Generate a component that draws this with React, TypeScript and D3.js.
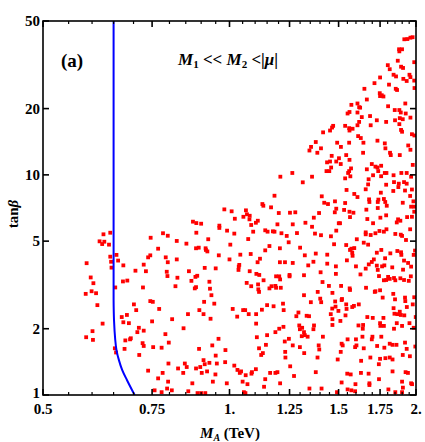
import React from "react";
import * as d3 from "d3";

// tick labels as printed on the figure
const xMajor = [0.5, 0.75, 1, 1.25, 1.5, 1.75, 2];
const xMajorLabels = ["0.5", "0.75", "1.", "1.25", "1.5", "1.75", "2."];
const yMajor = [1, 2, 5, 10, 20, 50];

// blue boundary curve (M_A in TeV vs tan beta)
const boundaryTanb = [1.0, 1.054, 1.17, 1.3, 1.44, 1.6, 1.78, 2.19, 2.7, 5, 50];
const boundaryMA = [0.703, 0.696, 0.683, 0.671, 0.663, 0.657, 0.654, 0.651, 0.65, 0.65, 0.65];

// scan points [M_A (TeV), tan beta]
const scanPoints: [number, number][] = [
  [0.626, 5.37], [0.642, 5.46], [0.617, 4.99], [0.628, 4.97], [0.623, 4.85], [0.639, 4.82],
  [0.746, 5.18], [0.781, 5.43], [0.795, 5.29], [0.767, 4.62], [0.642, 4.25], [0.657, 4.33],
  [0.644, 4.03], [0.661, 4.08], [0.674, 3.88], [0.645, 3.79], [0.588, 3.97], [0.739, 4.22],
  [0.745, 4.31], [0.727, 3.91], [0.789, 4.22], [0.795, 4.01], [0.705, 3.67], [0.733, 3.65],
  [0.792, 3.63], [0.794, 3.47], [0.597, 3.42], [0.673, 3.28], [0.684, 3.31], [0.603, 3.22],
  [0.654, 3.08], [0.725, 3.08], [0.599, 2.96], [0.586, 2.88], [0.609, 2.9], [0.612, 2.56],
  [0.745, 2.67], [0.752, 2.65], [0.701, 2.58], [0.707, 2.43], [0.77, 2.46], [0.683, 2.31],
  [0.67, 2.26], [0.75, 2.16], [0.674, 2.14], [0.688, 2.12], [0.624, 2.11], [0.714, 2.02],
  [0.727, 1.96], [0.71, 1.93], [0.601, 1.95], [0.587, 1.83], [0.602, 1.78], [0.788, 1.89],
  [0.693, 1.81], [0.691, 1.79], [0.679, 1.77], [0.724, 1.72], [0.727, 1.67], [0.798, 1.73],
  [0.753, 1.65], [0.777, 1.64], [0.653, 1.63], [0.677, 1.62], [0.656, 1.56], [0.715, 1.52],
  [0.797, 1.39], [0.739, 1.29], [0.78, 1.26], [0.767, 1.19], [0.796, 1.15], [0.793, 1.07],
  [0.757, 1.05], [0.777, 1.03],
  [0.981, 6.97], [1.008, 6.83], [1.063, 6.9], [1.067, 6.62], [1.078, 6.52], [1.053, 6.45],
  [1.02, 6.32], [1.077, 6.28], [0.873, 6.13], [0.884, 6.04], [0.9, 6.0], [1.084, 5.92],
  [0.963, 5.88], [0.963, 5.74], [0.991, 5.58], [1.092, 5.52], [0.884, 5.46], [1.018, 5.41],
  [0.924, 5.1], [1.072, 5.11], [0.822, 5.01], [0.852, 4.87], [1.003, 4.82], [0.883, 4.64],
  [0.892, 4.67], [0.915, 4.64], [0.916, 4.56], [0.921, 4.49], [0.961, 4.31], [1.041, 4.34],
  [1.082, 4.37], [0.822, 4.13], [1.0, 4.13], [1.037, 3.9], [1.035, 3.83], [0.912, 3.78],
  [0.95, 3.76], [1.034, 3.7], [0.86, 3.65], [1.078, 3.65], [0.887, 3.48], [0.881, 3.44],
  [0.824, 3.41], [0.868, 3.3], [0.928, 3.27], [1.066, 3.23], [0.818, 3.12], [0.883, 3.09],
  [0.879, 3.05], [1.084, 3.12], [0.93, 3.04], [0.935, 2.84], [0.91, 2.65], [0.945, 2.6],
  [0.894, 2.43], [1.012, 2.46], [1.052, 2.43], [1.06, 2.43], [0.857, 2.33], [0.908, 2.33],
  [1.074, 2.33], [1.029, 2.27], [0.932, 2.22], [0.808, 2.21], [0.843, 2.01], [0.96, 1.8],
  [0.938, 1.68], [0.893, 1.62], [0.985, 1.6], [0.95, 1.51], [0.908, 1.44], [0.984, 1.41],
  [0.847, 1.39], [0.928, 1.4], [0.912, 1.38], [0.954, 1.39], [0.897, 1.34], [0.853, 1.34],
  [0.826, 1.32], [0.883, 1.32], [1.018, 1.36], [1.03, 1.3], [1.044, 1.28], [1.039, 1.26],
  [1.087, 1.27], [0.92, 1.28], [0.902, 1.26], [0.842, 1.26], [0.949, 1.24], [1.062, 1.23],
  [1.085, 1.25], [0.94, 1.15], [1.05, 1.15], [0.871, 1.13], [0.99, 1.13], [1.069, 1.12],
  [0.807, 1.05], [0.858, 1.04], [0.888, 1.02], [0.9, 1.02], [0.914, 1.02], [1.055, 1.03],
  [1.061, 1.02],
  [1.13, 7.37], [1.134, 7.24], [1.167, 7.12], [1.422, 7.47], [1.442, 7.37], [1.48, 7.58],
  [1.487, 7.02], [1.479, 6.76], [1.201, 6.71], [1.252, 6.73], [1.277, 6.76], [1.395, 6.71],
  [1.368, 6.39], [1.326, 6.06], [1.501, 6.03], [1.111, 6.19], [1.103, 6.06], [1.195, 5.96],
  [1.265, 5.96], [1.359, 5.81], [1.142, 5.6], [1.152, 5.52], [1.175, 5.54], [1.182, 5.52],
  [1.213, 5.43], [1.285, 5.44], [1.374, 5.41], [1.405, 5.32], [1.487, 5.58], [1.458, 5.26],
  [1.237, 5.28], [1.246, 4.94], [1.475, 4.84], [1.16, 4.75], [1.206, 4.64], [1.3, 4.67],
  [1.142, 4.54], [1.323, 4.31], [1.378, 4.39], [1.438, 4.34], [1.12, 4.16], [1.11, 4.01],
  [1.206, 4.01], [1.229, 4.01], [1.265, 3.98], [1.366, 4.03], [1.34, 3.88], [1.438, 3.95],
  [1.485, 3.84], [1.105, 3.55], [1.117, 3.51], [1.135, 3.32], [1.189, 3.46], [1.203, 3.46],
  [1.207, 3.35], [1.25, 3.51], [1.25, 3.46], [1.319, 3.5], [1.403, 3.61], [1.485, 3.55],
  [1.413, 3.26], [1.112, 3.18], [1.169, 3.12], [1.16, 3.05], [1.186, 3.13], [1.189, 3.07],
  [1.21, 3.07], [1.447, 3.13], [1.113, 3.02], [1.116, 2.94], [1.388, 2.94], [1.466, 2.91],
  [1.319, 2.84], [1.401, 2.74], [1.406, 2.64], [1.353, 2.64], [1.481, 2.66], [1.22, 2.6],
  [1.15, 2.56], [1.178, 2.53], [1.128, 2.44], [1.223, 2.43], [1.483, 2.52], [1.465, 2.47],
  [1.499, 2.41], [1.104, 2.33], [1.292, 2.37], [1.282, 2.28], [1.332, 2.29], [1.344, 2.28],
  [1.457, 2.33], [1.466, 2.21], [1.104, 2.11], [1.296, 2.07], [1.369, 2.07], [1.466, 2.08],
  [1.203, 2.0], [1.222, 2.04], [1.31, 2.02], [1.299, 1.99], [1.366, 1.99], [1.186, 1.93],
  [1.319, 1.93], [1.323, 1.87], [1.308, 1.85], [1.337, 1.84], [1.15, 1.87], [1.107, 1.83],
  [1.247, 1.8], [1.228, 1.75], [1.265, 1.68], [1.299, 1.65], [1.415, 1.84], [1.393, 1.68],
  [1.396, 1.61], [1.145, 1.69], [1.116, 1.63], [1.23, 1.57], [1.32, 1.55], [1.132, 1.55],
  [1.125, 1.52], [1.231, 1.48], [1.387, 1.48], [1.495, 1.45], [1.103, 1.31], [1.253, 1.35],
  [1.163, 1.26], [1.186, 1.26], [1.195, 1.27], [1.378, 1.27], [1.271, 1.22], [1.142, 1.18],
  [1.207, 1.13], [1.137, 1.09], [1.346, 1.07], [1.408, 1.07], [1.491, 1.03],
  [1.537, 7.45], [1.682, 7.53], [1.735, 7.53], [1.784, 7.53], [1.904, 7.47], [1.964, 7.17],
  [1.988, 7.17], [1.981, 7.58], [1.794, 7.24], [1.735, 7.07], [1.663, 6.95], [1.531, 6.93],
  [1.562, 6.8], [1.585, 6.73], [1.987, 6.8], [1.79, 6.55], [1.752, 6.39], [1.565, 6.43],
  [1.669, 6.3], [1.871, 6.28], [1.887, 6.19], [1.935, 6.43], [1.97, 6.45], [1.705, 6.03],
  [1.508, 6.03], [1.862, 6.08], [1.957, 5.66], [1.792, 5.66], [1.775, 5.52], [1.746, 5.56],
  [1.659, 5.48], [1.659, 5.37], [1.69, 5.33], [1.72, 5.43], [1.89, 5.35], [1.899, 5.28],
  [1.852, 5.39], [1.605, 5.1], [1.647, 4.92], [1.674, 4.82], [1.927, 5.06], [1.543, 4.8],
  [1.573, 4.62], [1.59, 4.65], [1.565, 4.56], [1.578, 4.43], [1.58, 4.29], [1.758, 4.56],
  [1.729, 4.43], [1.818, 4.4], [1.866, 4.51], [1.892, 4.45], [1.894, 4.33], [1.993, 4.53],
  [1.983, 4.33], [1.783, 4.18], [1.71, 4.13], [1.547, 4.09], [1.913, 4.08], [1.942, 3.98],
  [1.697, 4.02], [1.678, 3.92], [1.659, 3.75], [1.735, 3.7], [1.729, 3.87], [1.763, 3.84],
  [1.778, 3.88], [1.831, 3.8], [1.906, 3.71], [1.964, 3.83], [1.6, 3.84], [1.627, 3.53],
  [1.743, 3.47], [1.803, 3.44], [1.814, 3.37], [1.775, 3.32], [1.79, 3.33], [1.843, 3.4],
  [1.852, 3.32], [1.887, 3.39], [1.913, 3.33], [1.947, 3.3], [1.962, 3.46], [1.514, 3.13],
  [1.563, 3.05], [1.565, 3.0], [1.661, 3.07], [1.72, 2.96], [1.75, 2.99], [1.716, 2.94],
  [1.838, 2.88], [1.767, 2.77], [1.92, 2.77], [1.517, 2.7], [1.519, 2.73], [1.85, 2.72],
  [1.922, 2.67], [1.987, 2.78], [1.543, 2.58], [1.545, 2.46], [1.578, 2.51], [1.588, 2.54],
  [1.617, 2.58], [1.976, 2.58], [1.84, 2.48], [1.933, 2.51], [1.883, 2.39], [1.846, 2.34],
  [1.866, 2.33], [1.89, 2.31], [1.915, 2.3], [1.539, 2.3], [1.669, 2.26], [1.703, 2.24],
  [1.772, 2.24], [1.998, 2.26], [1.51, 2.17], [1.75, 2.12], [1.775, 2.06], [1.752, 2.06],
  [1.862, 2.12], [1.899, 2.06], [1.952, 2.12], [1.615, 2.07], [1.643, 2.08], [1.641, 2.0],
  [1.843, 2.0], [1.983, 2.02], [1.701, 1.84], [1.697, 1.79], [1.758, 1.84], [1.551, 1.79],
  [1.6, 1.79], [1.639, 1.84], [1.595, 1.65], [1.603, 1.68], [1.814, 1.71], [1.833, 1.69],
  [1.86, 1.69], [1.92, 1.73], [1.731, 1.67], [1.647, 1.63], [1.932, 1.62], [1.995, 1.66],
  [1.517, 1.71], [1.523, 1.68], [1.512, 1.57], [1.778, 1.64], [1.904, 1.52], [1.955, 1.5],
  [1.688, 1.48], [1.75, 1.46], [1.785, 1.47], [1.814, 1.48], [1.833, 1.45], [1.631, 1.43],
  [1.742, 1.38], [1.833, 1.28], [1.924, 1.27], [1.941, 1.26], [1.549, 1.25], [1.569, 1.24],
  [1.63, 1.26], [1.677, 1.25], [1.743, 1.18], [1.517, 1.14], [1.597, 1.12], [1.682, 1.13],
  [1.682, 1.11], [1.899, 1.15], [1.964, 1.13], [1.971, 1.12], [1.551, 1.06], [1.573, 1.05],
  [1.595, 1.04], [1.805, 1.06], [1.905, 1.08], [1.852, 1.03], [1.899, 1.03],
  [1.208, 9.81], [1.263, 10.2], [1.182, 8.04],
  [1.573, 20.8], [1.609, 21.1], [1.619, 20.3], [1.609, 19.2], [1.562, 19.3], [1.551, 19.0],
  [1.619, 17.4], [1.609, 16.8], [1.537, 16.7], [1.56, 16.3], [1.58, 16.2], [1.562, 15.9],
  [1.47, 16.7], [1.464, 16.4], [1.453, 15.9], [1.416, 15.6], [1.613, 15.0], [1.378, 14.1],
  [1.492, 14.0], [1.56, 14.0], [1.354, 13.4], [1.405, 13.2], [1.513, 13.4], [1.346, 12.9],
  [1.386, 12.6], [1.462, 12.2], [1.543, 12.3], [1.502, 11.9], [1.437, 11.4], [1.453, 11.5],
  [1.487, 11.5], [1.512, 11.2], [1.562, 11.7], [1.571, 10.7], [1.459, 10.8], [1.434, 10.4],
  [1.449, 10.4], [1.56, 10.4], [1.554, 10.2], [1.359, 9.81], [1.567, 9.85], [1.537, 9.64],
  [1.313, 9.25], [1.545, 8.54], [1.409, 7.99], [1.59, 8.19], [1.609, 7.93],
  [1.915, 41.3], [1.937, 41.4], [1.959, 42.0], [1.975, 42.2], [1.878, 37.2], [1.88, 36.4],
  [1.899, 37.2], [1.869, 33.0], [1.987, 32.5], [1.801, 31.5], [1.814, 30.2], [1.892, 31.0],
  [1.906, 30.6], [1.84, 28.5], [1.857, 28.0], [1.952, 28.5], [1.959, 27.8], [1.75, 27.7],
  [1.908, 27.3], [1.932, 26.7], [1.987, 26.8], [1.714, 26.1], [1.809, 25.7], [1.855, 24.6],
  [1.864, 24.3], [1.651, 24.6], [1.989, 24.8], [1.748, 23.5], [1.761, 23.0], [1.75, 22.8],
  [1.772, 22.7], [1.666, 22.0], [1.922, 21.1], [1.803, 20.5], [1.625, 20.2], [1.848, 19.7],
  [1.88, 19.7], [1.89, 19.2], [1.925, 19.0], [1.635, 18.3], [1.686, 18.5], [1.729, 17.7],
  [1.85, 17.7], [1.883, 18.1], [1.904, 17.9], [1.959, 18.2], [1.69, 16.8], [1.88, 17.0],
  [1.892, 16.0], [1.899, 15.7], [1.79, 17.4], [1.97, 15.3], [1.988, 15.1], [1.629, 14.7],
  [1.733, 14.3], [1.645, 14.0], [1.781, 13.9], [1.785, 13.2], [1.943, 13.6], [1.959, 13.0],
  [1.816, 12.6], [1.821, 12.3], [1.883, 12.3], [1.643, 12.6], [1.976, 11.1], [1.697, 11.2],
  [1.72, 10.9], [1.733, 10.8], [1.757, 11.0], [1.666, 10.6], [1.738, 10.4], [1.781, 10.2],
  [1.792, 10.2], [1.84, 9.96], [1.705, 9.96], [1.757, 9.86], [1.894, 10.2], [1.932, 10.2],
  [1.964, 9.81], [1.677, 9.55], [1.79, 9.02], [1.843, 9.27], [1.876, 9.12], [1.913, 9.27],
  [1.932, 9.12], [1.674, 9.05], [1.659, 8.6], [1.873, 8.8], [1.92, 8.49], [1.97, 8.58],
  [1.838, 8.45], [1.755, 8.3], [1.957, 8.02], [1.775, 7.77], [1.739, 7.72], [1.68, 7.74],
];

const W = 425;
const H = 442;
const margin = { left: 43, top: 21, right: 9, bottom: 47 };
const serif = "'Liberation Serif', 'Times New Roman', serif";

export default function App() {
  const x = d3.scaleLog().domain([0.5, 2]).range([margin.left, W - margin.right]);
  const y = d3.scaleLog().domain([1, 50]).range([H - margin.bottom, margin.top]);
  const [x0, x1] = x.range();
  const [y0, y1] = y.range();

  const minorX = d3.range(0.5, 2.0001, 0.05).filter(
    (v) => !xMajor.some((m) => Math.abs(m - v) < 1e-6)
  );

  const boundary = d3
    .line<number>()
    .x((i) => x(boundaryMA[i]))
    .y((i) => y(boundaryTanb[i]))
    .curve(d3.curveCatmullRom)(d3.range(boundaryMA.length));

  const sq = 3.8;

  return (
    <div style={{ position: "absolute", left: 0, top: 0 }}>
      <svg width={W} height={H} style={{ display: "block", background: "#fff" }}>
        <defs>
          <clipPath id="plot">
            <rect x={x0} y={y1} width={x1 - x0} height={y0 - y1} />
          </clipPath>
        </defs>

        <g clipPath="url(#plot)">
          {scanPoints.map(([ma, tb], i) => (
            <rect
              key={i}
              x={x(ma) - sq / 2}
              y={y(tb) - sq / 2}
              width={sq}
              height={sq}
              fill="#ff0000"
            />
          ))}
          <path d={boundary ?? ""} fill="none" stroke="#0000ff" strokeWidth={2} />
        </g>

        {/* frame */}
        <rect x={x0} y={y1} width={x1 - x0} height={y0 - y1} fill="none" stroke="#000" strokeWidth={1.6} />

        {/* x ticks, bottom and top */}
        {xMajor.map((v) => (
          <g key={"xM" + v}>
            <line x1={x(v)} x2={x(v)} y1={y0} y2={y0 - 6} stroke="#000" strokeWidth={1.6} />
            <line x1={x(v)} x2={x(v)} y1={y1} y2={y1 + 6} stroke="#000" strokeWidth={1.6} />
          </g>
        ))}
        {minorX.map((v) => (
          <g key={"xm" + v}>
            <line x1={x(v)} x2={x(v)} y1={y0} y2={y0 - 3} stroke="#000" strokeWidth={1.2} />
            <line x1={x(v)} x2={x(v)} y1={y1} y2={y1 + 3} stroke="#000" strokeWidth={1.2} />
          </g>
        ))}
        {xMajor.map((v, i) => (
          <text
            key={"xl" + v}
            x={x(v)}
            y={y0 + 19}
            textAnchor="middle"
            fontFamily={serif}
            fontWeight="bold"
            fontSize={15}
          >
            {xMajorLabels[i]}
          </text>
        ))}

        {/* y ticks, left and right */}
        {yMajor.map((v) => (
          <g key={"y" + v}>
            <line x1={x0} x2={x0 + 6} y1={y(v)} y2={y(v)} stroke="#000" strokeWidth={1.6} />
            <line x1={x1} x2={x1 - 6} y1={y(v)} y2={y(v)} stroke="#000" strokeWidth={1.6} />
            <text
              x={x0 - 3}
              y={y(v) + (v === 1 ? 3 : 5)}
              textAnchor="end"
              fontFamily={serif}
              fontWeight="bold"
              fontSize={15}
            >
              {v}
            </text>
          </g>
        ))}

        {/* axis titles */}
        <text x={230} y={438} textAnchor="middle" fontFamily={serif} fontWeight="bold" fontSize={15}>
          <tspan fontStyle="italic">M</tspan>
          <tspan fontStyle="italic" fontSize={10} dy={3}>A</tspan>
          <tspan dy={-3}> (TeV)</tspan>
        </text>
        <text
          transform="translate(18,214) rotate(-90)"
          textAnchor="middle"
          fontFamily={serif}
          fontWeight="bold"
          fontSize={15}
        >
          tan<tspan fontStyle="italic">β</tspan>
        </text>

        {/* annotations */}
        <text x={61} y={67} fontFamily={serif} fontWeight="bold" fontSize={19}>
          (a)
        </text>
        <text x={178} y={65} fontFamily={serif} fontWeight="bold" fontSize={17}>
          <tspan fontStyle="italic">M</tspan>
          <tspan fontSize={11} dy={3}>1</tspan>
          <tspan dy={-3}> {"<<"} </tspan>
          <tspan fontStyle="italic">M</tspan>
          <tspan fontSize={11} dy={3}>2</tspan>
          <tspan dy={-3}> {"<|"}</tspan>
          <tspan fontStyle="italic">μ</tspan>
          <tspan>|</tspan>
        </text>
      </svg>
    </div>
  );
}
